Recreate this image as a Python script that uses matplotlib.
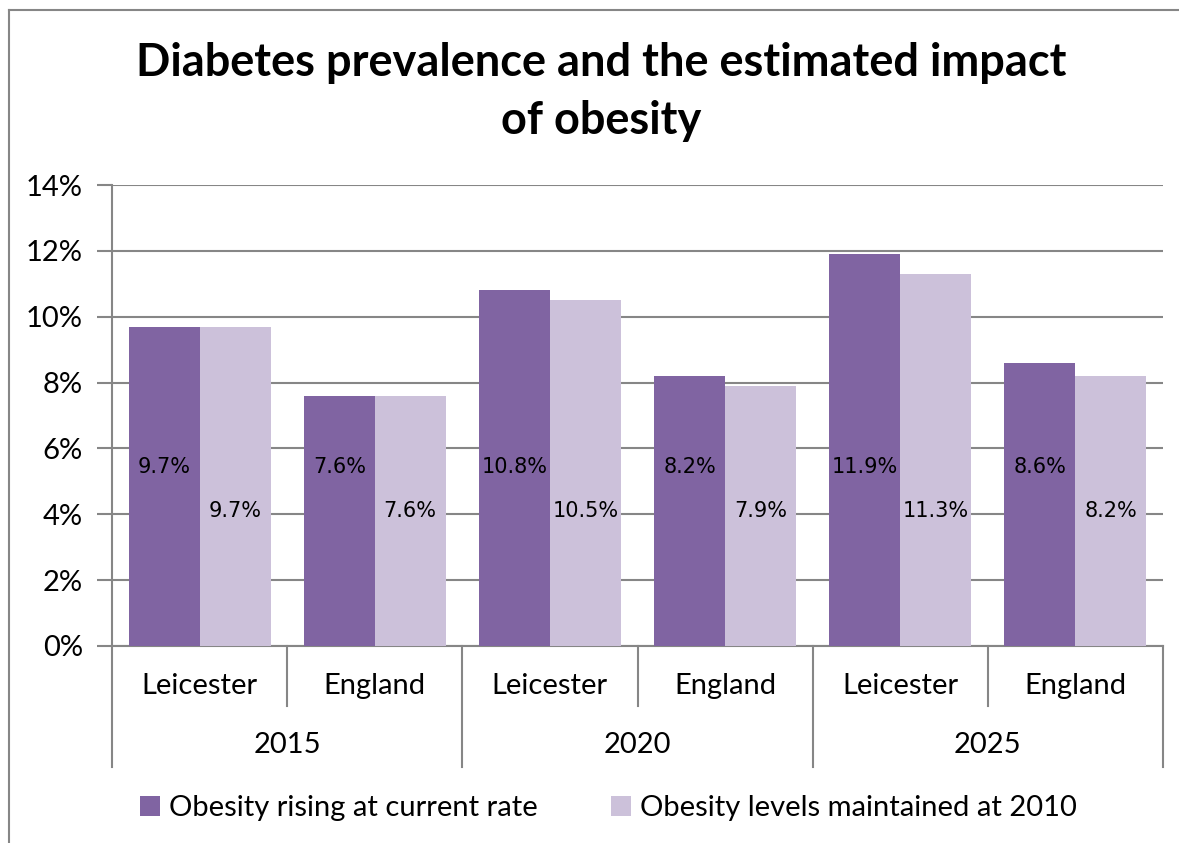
import matplotlib.pyplot as plt
import matplotlib.transforms as mtransforms
from matplotlib.lines import Line2D
import numpy as np

plt.rcParams['font.family'] = ['Lato', 'DejaVu Sans']

years = ['2015', '2020', '2025']
areas = ['Leicester', 'England']
rising = [9.7, 7.6, 10.8, 8.2, 11.9, 8.6]
maintained = [9.7, 7.6, 10.5, 7.9, 11.3, 8.2]
series_names = ['Obesity rising at current rate', 'Obesity levels maintained at 2010']

dark = '#8064A2'
light = '#CCC1DA'
grid_col = '#868686'

W, H = 1179, 843
fig = plt.figure(figsize=(W / 100, H / 100), dpi=100)

# chart outline, only the left and top edges fall inside the image
fig.add_artist(Line2D([9 / W, 9 / W], [0, 1 - 10 / H], color=grid_col, linewidth=1.5,
                      transform=fig.transFigure))
fig.add_artist(Line2D([9 / W, 1.05], [1 - 10 / H, 1 - 10 / H], color=grid_col, linewidth=1.5,
                      transform=fig.transFigure, clip_on=False))

ax = fig.add_axes([112 / W, (H - 646) / H, 1051 / W, 461 / H])

n = len(rising)
x = np.arange(n)
bw = 0.405
ax.bar(x - bw / 2, rising, width=bw, color=dark, label=series_names[0], zorder=3)
ax.bar(x + bw / 2, maintained, width=bw, color=light, label=series_names[1], zorder=3)

# data labels inside the bars
for i in range(n):
    ax.text(x[i] - bw / 2, 5.45, f'{rising[i]:.1f}%', ha='center', va='center',
            fontsize=15, family='DejaVu Sans', zorder=4)
    ax.text(x[i] + bw / 2, 4.1, f'{maintained[i]:.1f}%', ha='center', va='center',
            fontsize=15, family='DejaVu Sans', zorder=4)

ax.set_xlim(-0.5, n - 0.5)
ax.set_ylim(0, 14)
ax.set_yticks(np.arange(0, 15, 2))
ax.set_yticklabels([f'{v}%' for v in range(0, 15, 2)], fontsize=21)
ax.yaxis.grid(True, color=grid_col, linewidth=1.5, zorder=0)
ax.tick_params(axis='y', length=11, width=1.5, color=grid_col, pad=10)
ax.set_xticks([])
for s in ['top', 'right']:
    ax.spines[s].set_visible(False)
ax.spines['left'].set_color(grid_col)
ax.spines['left'].set_linewidth(1.5)
ax.spines['bottom'].set_color(grid_col)
ax.spines['bottom'].set_linewidth(1.5)

# two-level category axis
trans = mtransforms.blended_transform_factory(ax.transData, ax.transAxes)
d1 = -60 / 461
d2 = -121 / 461
for i in range(n + 1):
    b = i - 0.5
    low = d2 if i % 2 == 0 else d1
    ax.plot([b, b], [0, low], color=grid_col, linewidth=1.5, transform=trans, clip_on=False)
for i in range(n):
    ax.text(x[i], -40 / 461, areas[i % 2], ha='center', va='center', fontsize=21,
            transform=trans)
for j, yr in enumerate(years):
    ax.text(2 * j + 0.5, -99 / 461, yr, ha='center', va='center', fontsize=21,
            transform=trans)

fig.text(0.51, 1 - 92 / H, 'Diabetes prevalence and the estimated impact\nof obesity',
         ha='center', va='center', fontsize=32.5, fontweight='bold', linespacing=1.45)

fig.legend(loc='center', bbox_to_anchor=(0.516, 1 - 808 / H), ncol=2, frameon=False,
           fontsize=21, handlelength=0.7, handleheight=0.7, handletextpad=0.3,
           columnspacing=2.5)

fig.savefig('out.png', dpi=100)
